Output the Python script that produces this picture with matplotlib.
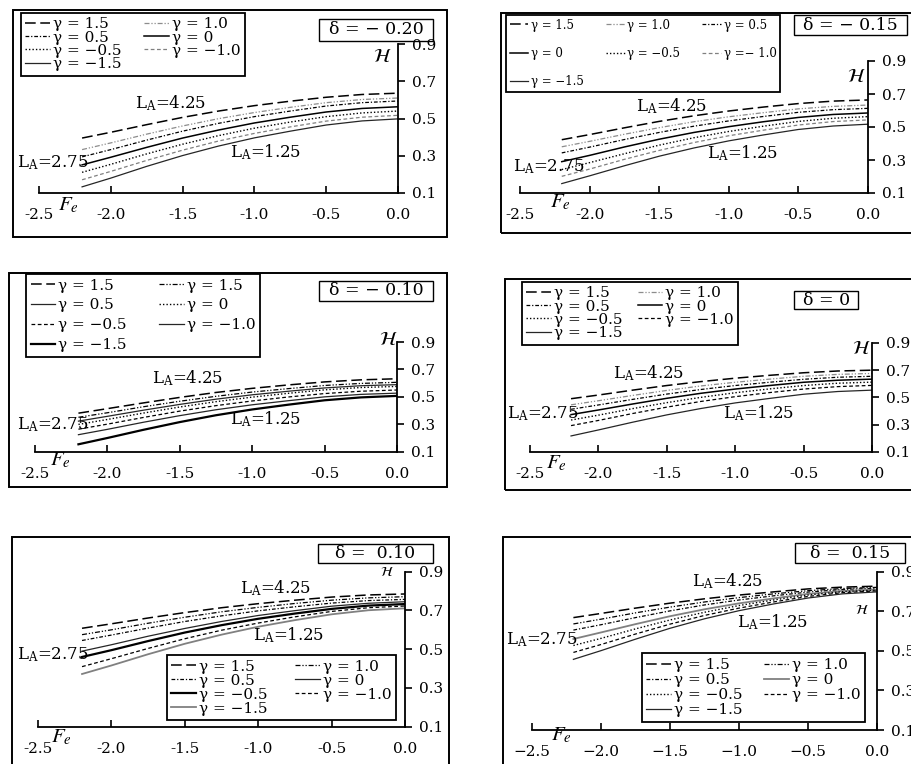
import matplotlib
matplotlib.use("Agg")
import matplotlib.pyplot as plt
from matplotlib.patches import Rectangle

plt.rcParams['font.family'] = ['DejaVu Serif']
plt.rcParams['mathtext.fontset'] = 'dejavuserif'

W, H = 912, 764

# Field strength values where H was evaluated
fe = [-2.2, -2.0, -1.75, -1.5, -1.25, -1.0, -0.75, -0.5, -0.25, 0.0]

# H(F_e) for gamma = 1.5, 1.0, 0.5, 0, -0.5, -1.0, -1.5 (one row per gamma)
h_dm020 = [
    [.395, .426, .467, .506, .540, .569, .593, .614, .629, .636],
    [.333, .369, .416, .460, .499, .532, .560, .585, .602, .610],
    [.294, .333, .384, .432, .474, .510, .540, .567, .585, .594],
    [.251, .292, .345, .395, .438, .476, .507, .535, .554, .563],
    [.211, .254, .310, .362, .408, .448, .481, .510, .530, .540],
    [.171, .216, .275, .330, .379, .420, .455, .486, .507, .517],
    [.133, .180, .243, .301, .352, .396, .432, .465, .487, .498],
]
h_dm015 = [
    [.423, .454, .495, .534, .568, .597, .621, .642, .657, .664],
    [.380, .413, .456, .496, .532, .562, .587, .610, .625, .633],
    [.343, .378, .424, .467, .505, .537, .564, .589, .605, .613],
    [.290, .328, .379, .426, .467, .502, .532, .558, .576, .585],
    [.242, .284, .338, .390, .435, .473, .505, .534, .553, .563],
    [.201, .245, .304, .358, .406, .447, .481, .512, .533, .543],
    [.157, .204, .265, .323, .373, .416, .452, .485, .506, .517],
]
h_dm010 = [
    [.381, .414, .456, .496, .532, .562, .587, .609, .624, .632],
    [.351, .384, .428, .468, .504, .535, .560, .583, .598, .606],
    [.323, .358, .403, .445, .483, .515, .541, .565, .581, .589],
    [.299, .335, .382, .426, .465, .498, .526, .551, .568, .576],
    [.264, .301, .350, .396, .436, .470, .499, .524, .541, .550],
    [.224, .263, .315, .363, .406, .442, .472, .500, .518, .527],
    [.154, .200, .260, .316, .366, .408, .443, .475, .496, .507],
]
h_d000 = [
    [.490, .517, .553, .587, .616, .641, .662, .681, .694, .700],
    [.445, .475, .514, .551, .584, .611, .634, .655, .669, .676],
    [.412, .444, .485, .524, .558, .587, .611, .633, .648, .655],
    [.373, .407, .451, .493, .530, .561, .587, .611, .626, .634],
    [.333, .369, .417, .461, .500, .534, .562, .587, .604, .612],
    [.292, .330, .381, .428, .470, .505, .535, .561, .579, .588],
    [.216, .260, .317, .371, .418, .459, .492, .523, .543, .553],
]
h_dp010 = [
    [.608, .631, .661, .689, .714, .735, .753, .769, .780, .785],
    [.575, .600, .634, .665, .693, .716, .736, .753, .765, .771],
    [.545, .573, .609, .643, .672, .698, .719, .738, .751, .757],
    [.490, .523, .567, .607, .643, .674, .699, .722, .737, .745],
    [.460, .495, .542, .586, .624, .657, .684, .708, .725, .733],
    [.410, .451, .504, .554, .598, .635, .667, .695, .714, .723],
    [.372, .416, .474, .528, .575, .616, .650, .680, .701, .711],
]
h_dp015 = [
    [.668, .689, .716, .741, .763, .782, .798, .813, .822, .827],
    [.636, .660, .692, .721, .747, .769, .788, .804, .815, .821],
    [.605, .632, .668, .702, .732, .757, .778, .797, .810, .816],
    [.560, .593, .635, .675, .710, .740, .765, .788, .803, .810],
    [.527, .563, .611, .656, .695, .729, .757, .782, .799, .807],
    [.492, .532, .585, .635, .679, .716, .747, .775, .794, .803],
    [.457, .501, .559, .614, .662, .703, .737, .767, .788, .798],
]

lab_std = ['γ = 1.5', 'γ = 1.0', 'γ = 0.5', 'γ = 0', 'γ = −0.5', 'γ = −1.0', 'γ = −1.5']
lab_m015 = ['γ = 1.5', 'γ = 1.0', 'γ = 0.5', 'γ = 0', 'γ = −0.5', 'γ =− 1.0', 'γ = −1.5']
lab_m010 = ['γ = 1.5', 'γ = 1.5', 'γ = 0.5', 'γ = 0', 'γ = −0.5', 'γ = −1.0', 'γ = −1.5']

xticks = [-2.5, -2.0, -1.5, -1.0, -0.5, 0.0]
xlab_hyphen = ['-2.5', '-2.0', '-1.5', '-1.0', '-0.5', '0.0']
xlab_minus = ['−2.5', '−2.0', '−1.5', '−1.0', '−0.5', '0.0']
yticks = [0.1, 0.3, 0.5, 0.7, 0.9]
ylab = ['0.1', '0.3', '0.5', '0.7', '0.9']

# line styles
STY = {
    'dash':  dict(color='black', ls=(0, (7, 3)), lw=1.1),
    'dd2':   dict(color='0.55', ls=(0, (4, 1.5, 1, 1.5, 1, 1.5)), lw=0.9),
    'dd2k':  dict(color='black', ls=(0, (4, 1.5, 1, 1.5, 1, 1.5)), lw=0.9),
    'dd':    dict(color='black', ls=(0, (3, 1.5, 1, 1.5)), lw=0.9),
    'solid': dict(color='black', ls='-', lw=1.1),
    'dot':   dict(color='black', ls=(0, (1, 1.5)), lw=1.0),
    'gdash': dict(color='0.5', ls=(0, (3, 2)), lw=0.9),
    'sdash': dict(color='black', ls=(0, (3, 2)), lw=0.9),
    'thin':  dict(color='0.15', ls='-', lw=0.9),
    'thick': dict(color='black', ls='-', lw=1.6),
    'gsolid': dict(color='0.5', ls='-', lw=1.3),
}

ORDER2 = [0, 2, 4, 6, 1, 3, 5]
ORDER3 = [0, 3, 6, 1, 4, 2, 5]

panels = [
    dict(data=h_dm020, labels=lab_std, delta='δ = − 0.20',
         styles=['dash', 'dd2', 'dd', 'solid', 'dot', 'gdash', 'thin'],
         axes=(39, 398, 44, 193), frame=(13, 10, 447, 237),
         legend=(20.7, 12.7, 245, 75), ncol=2, lfs=11, lsp=-0.05,
         dbox=(319.3, 19.3, 432.7, 40.7),
         la=[(-1.83, 0.583), (-2.655, 0.261), (-1.17, 0.32)],
         hpos=(-0.113, 0.832), hfs=14, fpos=(-2.296, 0.036), xl=xlab_hyphen),
    dict(data=h_dm015, labels=lab_m015, delta='δ = − 0.15',
         styles=['dash', 'dd2', 'dd', 'solid', 'dot', 'gdash', 'thin'],
         axes=(520, 868, 61, 193), frame=(501, 12.7, 930, 233.3),
         legend=(506, 15, 780, 90.7), ncol=3, lfs=8.5, lsp=1.3,
         dbox=(794.3, 15, 906.7, 35),
         la=[(-1.667, 0.627), (-2.548, 0.259), (-1.159, 0.341)],
         hpos=(-0.081, 0.805), hfs=14, fpos=(-2.213, 0.047), xl=xlab_hyphen),
    dict(data=h_dm010, labels=lab_m010, delta='δ = − 0.10',
         styles=['dash', 'dd2k', 'thin', 'dot', 'sdash', 'thin', 'thick'],
         axes=(35, 397, 342, 451.7), frame=(9.3, 272.7, 446.7, 487.3),
         legend=(26, 274, 260, 356.7), ncol=2, lfs=11, lsp=0.38,
         dbox=(319.3, 280.7, 432.7, 300.7),
         la=[(-1.694, 0.635), (-2.626, 0.295), (-1.153, 0.336)],
         hpos=(-0.06, 0.914), hfs=14, fpos=(-2.327, 0.04), xl=xlab_hyphen),
    dict(data=h_d000, labels=lab_std, delta='δ = 0',
         styles=['dash', 'dd2', 'dd', 'solid', 'dot', 'sdash', 'thin'],
         axes=(530, 872, 343, 451.7), frame=(505, 279.3, 930, 490),
         legend=(521.7, 281.7, 738.3, 341), ncol=2, lfs=11, lsp=-0.05,
         dbox=(794.3, 291, 858.3, 309.3),
         la=[(-1.895, 0.677), (-2.67, 0.377), (-1.086, 0.383)],
         hpos=(-0.075, 0.854), hfs=14, fpos=(-2.305, 0.015), xl=xlab_hyphen),
    dict(data=h_dp010, labels=lab_std, delta='δ =  0.10',
         styles=['dash', 'dd2k', 'dd', 'thin', 'thick', 'sdash', 'gsolid'],
         axes=(38, 405, 571.7, 726.7), frame=(11.7, 536.7, 449, 790),
         legend=(166.7, 655, 396, 718.3), ncol=2, lfs=11, lsp=0.0,
         dbox=(318.3, 544, 432.7, 563.3),
         la=[(-1.124, 0.814), (-2.645, 0.47), (-1.033, 0.573)],
         hpos=(-0.125, 0.9), hfs=10, fpos=(-2.339, 0.048), xl=xlab_hyphen),
    dict(data=h_dp015, labels=lab_std, delta='δ =  0.15',
         styles=['dash', 'dd2k', 'dd', 'gsolid', 'dot', 'sdash', 'thin'],
         axes=(532, 877, 571.7, 730), frame=(503.3, 536.7, 930, 790),
         legend=(641.7, 653.3, 865, 721.7), ncol=2, lfs=11, lsp=0.07,
         dbox=(795, 543.3, 905, 563.3),
         la=[(-1.343, 0.854), (-2.69, 0.555), (-1.017, 0.647)],
         hpos=(-0.11, 0.706), hfs=10, fpos=(-2.285, 0.075), xl=xlab_minus),
]

fig = plt.figure(figsize=(W / 100, H / 100), dpi=100)
fig.patch.set_facecolor('white')


def fig_rect(l, t, r, b):
    return (l / W, 1 - b / H, (r - l) / W, (b - t) / H)


for p in panels:
    # outer frame of the panel
    x0, y0, w, h = fig_rect(*p['frame'])
    fig.add_artist(Rectangle((x0, y0), w, h, transform=fig.transFigure,
                             fill=False, ec='black', lw=1.4))

    l, r, t, b = p['axes']
    ax = fig.add_axes(fig_rect(l, t, r, b))
    ax.patch.set_alpha(0)
    ax.set_xlim(-2.5, 0.0)
    ax.set_ylim(0.1, 0.9)
    for s in ('top', 'left'):
        ax.spines[s].set_visible(False)
    for s in ('bottom', 'right'):
        ax.spines[s].set_linewidth(1.3)
    ax.yaxis.tick_right()
    ax.set_xticks(xticks, p['xl'])
    ax.set_yticks(yticks, ylab)
    ax.tick_params(axis='x', direction='in', length=5, width=1.2, pad=11,
                   labelsize=11)
    ax.tick_params(axis='y', direction='out', length=5, width=1.2, pad=5,
                   labelsize=11, right=True, left=False)

    lines = []
    for row, st in zip(p['data'], p['styles']):
        ln, = ax.plot(fe, row, **STY[st])
        lines.append(ln)

    # L_A annotations
    for txt, (xx, yy) in zip(['4.25', '2.75', '1.25'], p['la']):
        ax.text(xx, yy, 'L$_\\mathregular{A}$=' + txt, fontsize=12,
                ha='left', va='center')

    ax.text(*p['hpos'], r'$\mathcal{H}$', math_fontfamily='stix',
            fontsize=p['hfs'], ha='center', va='center')
    ax.text(*p['fpos'], r'$F_e$', math_fontfamily='stix', fontsize=15,
            ha='center', va='center', clip_on=False)

    # delta box
    dl, dt, dr, db = p['dbox']
    x0, y0, w, h = fig_rect(dl, dt, dr, db)
    fig.add_artist(Rectangle((x0, y0), w, h, transform=fig.transFigure,
                             fill=False, ec='black', lw=1.0))
    fig.text(x0 + w / 2, y0 + h / 2, p['delta'], fontsize=12.5,
             ha='center', va='center')

    # legend
    order = ORDER3 if p['ncol'] == 3 else ORDER2
    ll, lt, lr, lb = p['legend']
    leg = fig.legend([lines[i] for i in order], [p['labels'][i] for i in order],
                     loc='upper left',
                     bbox_to_anchor=(ll / W, 1 - lt / H, (lr - ll) / W, 0),
                     mode='expand', ncol=p['ncol'], fontsize=p['lfs'],
                     labelspacing=p['lsp'], borderpad=0.3,
                     handlelength=1.6, handletextpad=0.2, columnspacing=0.6,
                     frameon=True, fancybox=False, framealpha=1,
                     edgecolor='black', borderaxespad=0)
    leg.get_frame().set_linewidth(1.3)

fig.savefig('out.png', dpi=100, facecolor='white')
